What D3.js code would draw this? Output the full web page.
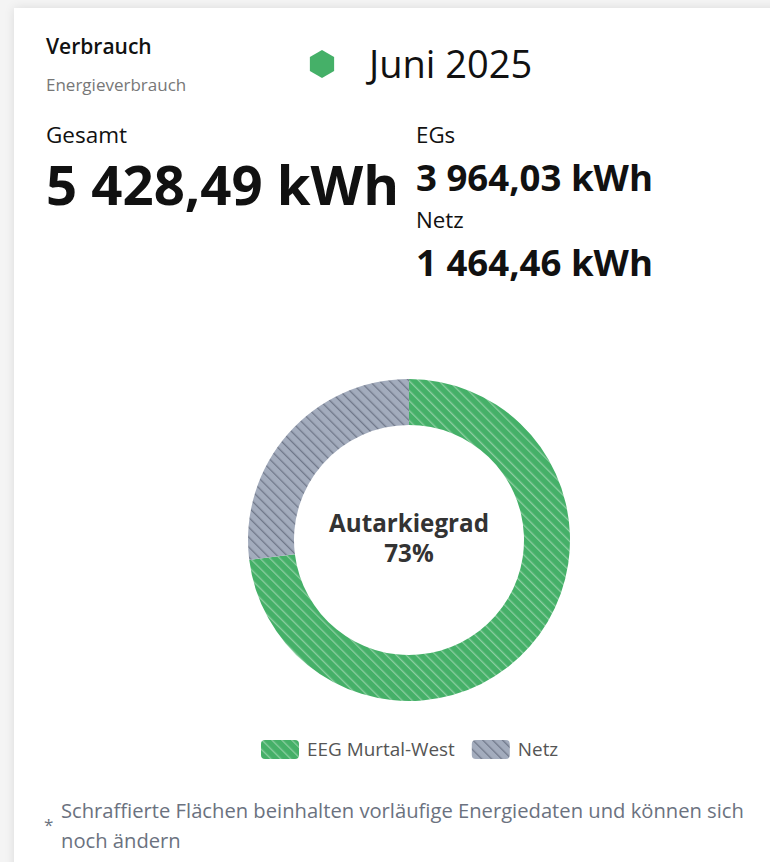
<!DOCTYPE html>
<html>
<head>
<meta charset="utf-8">
<script src="https://cdn.jsdelivr.net/npm/d3@7"></script>
<style>
  body { margin: 0; background: #f4f4f4; font-family: "Open Sans", "Noto Sans", sans-serif; }
  .card {
    position: absolute; left: 14px; top: 8px; width: 800px; height: 900px;
    background: #fff; box-shadow: 0 0 10px rgba(0,0,0,0.10);
  }
  svg { position: absolute; left: 0; top: 0; }
</style>
</head>
<body>
<div class="card"></div>
<svg id="chart"></svg>
<script>
// chart data
const period = 'Juni 2025';
const categories = ['EEG Murtal-West', 'Netz'];
const values = [3964.03, 1464.46];
const colors = ['#45b068', '#a3acbd'];
const hatchColors = ['rgba(255,255,255,0.38)', 'rgba(70,76,96,0.55)'];

const width = 770, height = 862;
const fmt = v => d3.format(',.2f')(v).replace(/,/g, ' ').replace('.', ',') + ' kWh';
const total = d3.sum(values);
const autarky = Math.round(100 * values[0] / total);

const svg = d3.select('#chart')
  .attr('width', width)
  .attr('height', height);

// hatch patterns
const defs = svg.append('defs');
categories.forEach((c, i) => {
  const p = defs.append('pattern')
    .attr('id', 'hatch' + i)
    .attr('patternUnits', 'userSpaceOnUse')
    .attr('width', 7)
    .attr('height', 7)
    .attr('patternTransform', 'rotate(-45)');
  p.append('rect')
    .attr('width', 7).attr('height', 7)
    .attr('fill', colors[i]);
  p.append('rect')
    .attr('width', 1.3).attr('height', 7)
    .attr('fill', hatchColors[i]);
});

// header
svg.append('text')
  .attr('x', 46).attr('y', 54)
  .attr('font-size', 21).attr('font-weight', 600)
  .attr('fill', '#111')
  .text('Verbrauch');
svg.append('text')
  .attr('x', 46).attr('y', 91)
  .attr('font-size', 17)
  .attr('fill', '#777')
  .text('Energieverbrauch');

const hex = d3.range(6).map(k => {
  const a = Math.PI / 3 * k - Math.PI / 2;
  return [322 + 14 * Math.cos(a), 64 + 14 * Math.sin(a)];
});
svg.append('polygon')
  .attr('points', hex.map(p => p.join(',')).join(' '))
  .attr('fill', colors[0]);
svg.append('text')
  .attr('x', 369).attr('y', 78)
  .attr('font-size', 38)
  .attr('fill', '#111')
  .text(period);

// totals
svg.append('text')
  .attr('x', 46).attr('y', 143)
  .attr('font-size', 22.5).attr('fill', '#111')
  .text('Gesamt');
svg.append('text')
  .attr('x', 46).attr('y', 205)
  .attr('font-size', 54.5).attr('font-weight', 700).attr('fill', '#111')
  .text(fmt(total));

const side = [
  { label: 'EGs', value: values[0], y: 143 },
  { label: 'Netz', value: values[1], y: 228 }
];
side.forEach(s => {
  svg.append('text')
    .attr('x', 416).attr('y', s.y)
    .attr('font-size', 22.3).attr('fill', '#111')
    .text(s.label);
  svg.append('text')
    .attr('x', 416).attr('y', s.y + 48)
    .attr('font-size', 36.6).attr('font-weight', 700).attr('fill', '#111')
    .text(fmt(s.value));
});

// donut
const cx = 409, cy = 540;
const pie = d3.pie().sort(null).value(d => d.value);
const arc = d3.arc().innerRadius(115).outerRadius(161);
const slices = pie(categories.map((c, i) => ({ name: c, value: values[i], i })));

const g = svg.append('g').attr('transform', `translate(${cx},${cy})`);
g.selectAll('path')
  .data(slices)
  .join('path')
  .attr('d', arc)
  .attr('fill', d => `url(#hatch${d.data.i})`);

g.append('text')
  .attr('text-anchor', 'middle')
  .attr('y', -8)
  .attr('font-size', 24.2).attr('font-weight', 700).attr('fill', '#333')
  .text('Autarkiegrad');
g.append('text')
  .attr('text-anchor', 'middle')
  .attr('y', 22)
  .attr('font-size', 24.2).attr('font-weight', 700).attr('fill', '#333')
  .text(autarky + '%');

// legend
const legend = svg.append('g').attr('transform', 'translate(261,740)');
let lx = 0;
categories.forEach((c, i) => {
  const item = legend.append('g').attr('transform', `translate(${lx},0)`);
  item.append('rect')
    .attr('width', 38).attr('height', 19).attr('rx', 4)
    .attr('fill', `url(#hatch${i})`);
  const t = item.append('text')
    .attr('x', 46).attr('y', 16)
    .attr('font-size', 18.9).attr('fill', '#555')
    .text(c);
  lx += 46 + t.node().getComputedTextLength() + 17;
});

// footnote
svg.append('text')
  .attr('x', 44).attr('y', 831)
  .attr('font-size', 17).attr('fill', '#6b7280')
  .text('*');
svg.append('text')
  .attr('x', 61).attr('y', 818)
  .attr('font-size', 20.2).attr('fill', '#6b7280')
  .text('Schraffierte Flächen beinhalten vorläufige Energiedaten und können sich');
svg.append('text')
  .attr('x', 61).attr('y', 848)
  .attr('font-size', 20.2).attr('fill', '#6b7280')
  .text('noch ändern');
</script>
</body>
</html>
